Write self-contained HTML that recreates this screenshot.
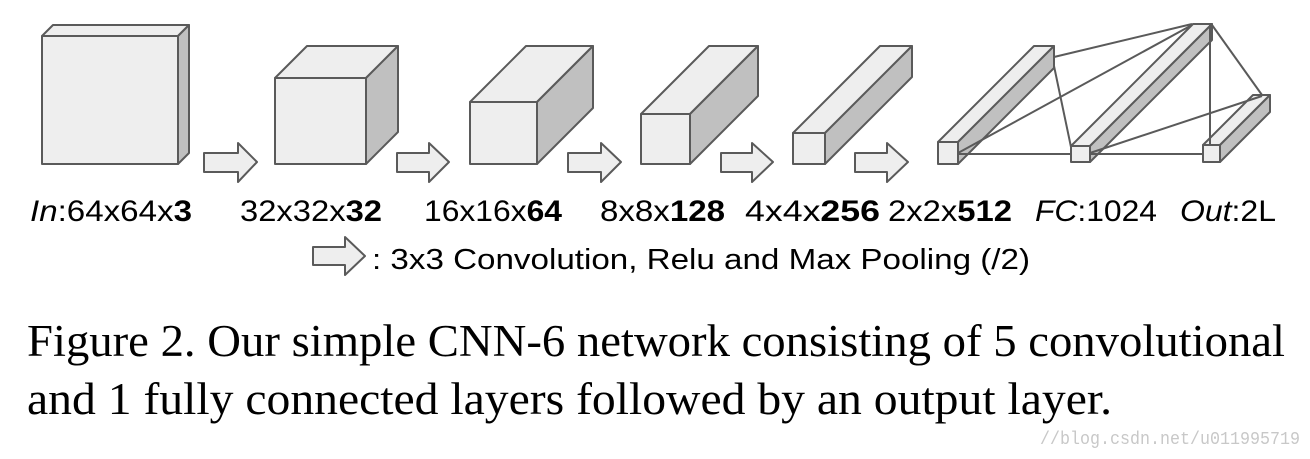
<!DOCTYPE html>
<html><head><style>body{margin:0;background:#fff}svg{display:block}</style></head><body>
<svg width="1310" height="459" viewBox="0 0 1310 459" xmlns="http://www.w3.org/2000/svg">
<g stroke="#5a5a5a" stroke-width="2" stroke-linejoin="round">
<polygon points="42,36 53,25 189,25 178,36" fill="#eeeeee"/>
<polygon points="178,36 189,25 189,153 178,164" fill="#c0c0c0"/>
<rect x="42" y="36" width="136" height="128" fill="#eeeeee"/>
<polygon points="275,78 307,46 398,46 366,78" fill="#eeeeee"/>
<polygon points="366,78 398,46 398,132 366,164" fill="#c0c0c0"/>
<rect x="275" y="78" width="91" height="86" fill="#eeeeee"/>
<polygon points="470,102 526,46 593,46 537,102" fill="#eeeeee"/>
<polygon points="537,102 593,46 593,108 537,164" fill="#c0c0c0"/>
<rect x="470" y="102" width="67" height="62" fill="#eeeeee"/>
<polygon points="641,114 709,46 758,46 690,114" fill="#eeeeee"/>
<polygon points="690,114 758,46 758,96 690,164" fill="#c0c0c0"/>
<rect x="641" y="114" width="49" height="50" fill="#eeeeee"/>
<polygon points="793,133 880,46 912,46 825,133" fill="#eeeeee"/>
<polygon points="825,133 912,46 912,77 825,164" fill="#c0c0c0"/>
<rect x="793" y="133" width="32" height="31" fill="#eeeeee"/>
<polygon points="938,142 1034,46 1054,46 958,142" fill="#eeeeee"/>
<polygon points="958,142 1054,46 1054,68 958,164" fill="#c0c0c0"/>
<rect x="938" y="142" width="20" height="22" fill="#eeeeee"/>
<polygon points="1071,146 1193,24 1212,24 1090,146" fill="#eeeeee"/>
<polygon points="1090,146 1212,24 1212,40 1090,162" fill="#c0c0c0"/>
<rect x="1071" y="146" width="19" height="16" fill="#eeeeee"/>
<polygon points="1203,145 1253,95 1270,95 1220,145" fill="#eeeeee"/>
<polygon points="1220,145 1270,95 1270,112 1220,162" fill="#c0c0c0"/>
<rect x="1203" y="145" width="17" height="17" fill="#eeeeee"/>
<g fill="none">
<line x1="1054" y1="57" x2="1192" y2="24"/>
<line x1="958" y1="154" x2="1071" y2="154"/>
<line x1="958" y1="153" x2="1192" y2="25"/>
<line x1="1054" y1="66" x2="1071" y2="147"/>
<line x1="1212" y1="25" x2="1262" y2="95"/>
<line x1="1210" y1="25" x2="1210" y2="146"/>
<line x1="1090" y1="153" x2="1262" y2="96"/>
<line x1="1090" y1="154" x2="1203" y2="154"/>
</g>
<g fill="#eeeeee">
<polygon points="204,153 238,153 238,143 257,162 238,182 238,172 204,172"/>
<polygon points="397,153 429,153 429,143 449,162 429,182 429,172 397,172"/>
<polygon points="568,153 601,153 601,143 621,162 601,182 601,172 568,172"/>
<polygon points="721,153 752,153 752,143 773,162 752,182 752,172 721,172"/>
<polygon points="855,153 887,153 887,143 908,162 887,182 887,172 855,172"/>
<polygon points="313,247 345,247 345,237 365,256 345,275 345,265 313,265"/>
</g>
</g>
<g font-family="Liberation Sans, sans-serif" font-size="30" fill="#000">
<text x="30" y="221" textLength="162" lengthAdjust="spacingAndGlyphs"><tspan font-style="italic">In</tspan>:64x64x<tspan font-weight="bold">3</tspan></text>
<text x="240" y="221" textLength="142" lengthAdjust="spacingAndGlyphs">32x32x<tspan font-weight="bold">32</tspan></text>
<text x="424" y="221" textLength="138" lengthAdjust="spacingAndGlyphs">16x16x<tspan font-weight="bold">64</tspan></text>
<text x="600" y="221" textLength="125" lengthAdjust="spacingAndGlyphs">8x8x<tspan font-weight="bold">128</tspan></text>
<text x="745" y="221" textLength="135" lengthAdjust="spacingAndGlyphs">4x4x<tspan font-weight="bold">256</tspan></text>
<text x="888" y="221" textLength="124" lengthAdjust="spacingAndGlyphs">2x2x<tspan font-weight="bold">512</tspan></text>
<text x="1035" y="221" textLength="122" lengthAdjust="spacingAndGlyphs"><tspan font-style="italic">FC</tspan>:1024</text>
<text x="1180" y="221" textLength="96" lengthAdjust="spacingAndGlyphs"><tspan font-style="italic">Out</tspan>:2L</text>
<text x="372" y="269" font-size="29" textLength="658" lengthAdjust="spacingAndGlyphs">: 3x3 Convolution, Relu and Max Pooling (/2)</text>
</g>
<g font-family="Liberation Serif, serif" font-size="45" fill="#000">
<text x="27" y="356" textLength="1258" lengthAdjust="spacingAndGlyphs">Figure 2. Our simple CNN-6 network consisting of 5 convolutional</text>
<text x="27" y="414" textLength="1085" lengthAdjust="spacingAndGlyphs">and 1 fully connected layers followed by an output layer.</text>
</g>
<text x="1040" y="444" font-family="Liberation Mono, monospace" font-size="18" fill="#c8c8c8" textLength="260" lengthAdjust="spacingAndGlyphs">//blog.csdn.net/u011995719</text>
</svg>
</body></html>
